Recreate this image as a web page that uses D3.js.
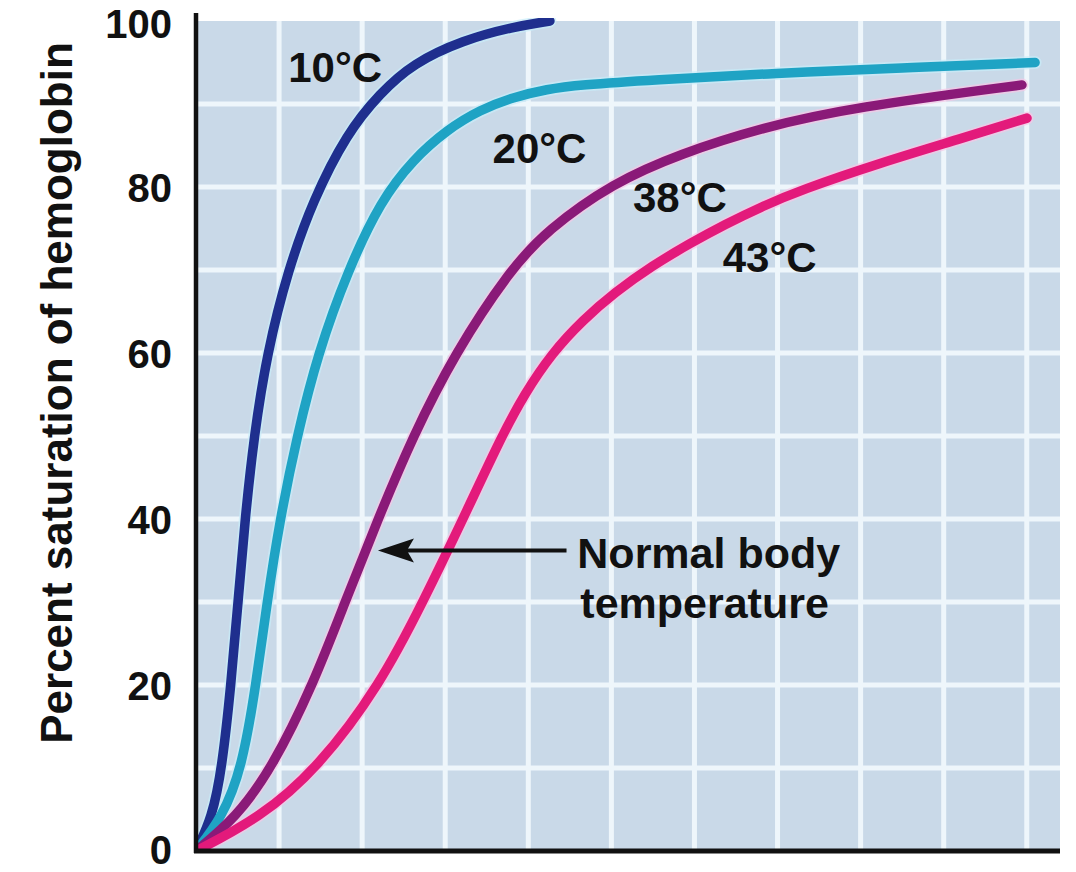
<!DOCTYPE html>
<html>
<head>
<meta charset="utf-8">
<script src="https://cdn.jsdelivr.net/npm/d3@7"></script>
<style>
  html, body { margin: 0; padding: 0; background: #ffffff; }
  svg { display: block; }
  text { font-family: "Liberation Sans", Arial, Helvetica, sans-serif; font-weight: bold; fill: #111; }
</style>
</head>
<body>
<svg id="chart" width="1076" height="872"></svg>
<script>
// ---- Data (x: oxygen level in arbitrary grid units, y: percent saturation) ----
const yTicks = [0, 20, 40, 60, 80, 100];
const yTickLabels = ["0", "20", "40", "60", "80", "100"];
const gridX = [10, 20, 30, 40, 50, 60, 70, 80, 90, 100];
const gridY = [10, 20, 30, 40, 50, 60, 70, 80, 90];

const seriesNames = ["10°C", "20°C", "38°C", "43°C"];

const curve10 = [
  [0, 0], [1.93, 4], [3.13, 10], [4.21, 20], [5.06, 30], [5.9, 40], [6.98, 50],
  [8.55, 60], [11.07, 70], [14.08, 78.4], [18.18, 86.5], [22.15, 91.3],
  [26.12, 94.9], [32.14, 97.7], [38.16, 99.3], [42.6, 100]
];
const curve20 = [
  [0, 0], [3.13, 4], [5.54, 10], [7.22, 20], [8.55, 30], [10.11, 40], [12.16, 50],
  [14.68, 60], [18.3, 70], [22.27, 78.4], [26.12, 83.3], [30.21, 86.9],
  [34.19, 89.3], [38.16, 90.8], [42.25, 91.8], [46.22, 92.3], [54.65, 92.9],
  [69.93, 93.7], [84.74, 94.35], [101, 95.0]
];
const curve38 = [
  [0, 0], [4.81, 4], [9.15, 10], [14.08, 20], [17.94, 30], [21.91, 40], [26.12, 50],
  [31.18, 60], [37.8, 70], [42.25, 74.8], [50.19, 80.5], [58.26, 84], [68.25, 87.2],
  [79.08, 89.6], [99.42, 92.3]
];
const curve43 = [
  [0, 0], [7.7, 4], [14.68, 10], [22.15, 20], [27.32, 30], [32.14, 40], [36.8, 50],
  [39.5, 55], [42.85, 60], [46.6, 64], [50.4, 67.3], [54.89, 70.5], [59.46, 73.2],
  [63.67, 75.5], [68.25, 77.7], [72.7, 79.6], [82.33, 82.9], [92.0, 85.8], [100.03, 88.3]
];
const seriesData = [curve10, curve20, curve38, curve43];
const seriesColors = ["#1f2f8e", "#1fa3c4", "#8a1a78", "#e31a7b"];

// label anchor points (data units: left x, baseline y)
const labelPos = [[11.1, 92.6], [35.7, 82.9], [52.6, 77.0], [63.4, 69.8]];

const annotationLines = ["Normal body", "temperature"];
const arrowTip = [21.9, 36.2];
const arrowTail = [44.6, 36.2];
const annotationPos = [45.9, 34.1];

// ---- Layout ----
const svg = d3.select("#chart");
const mLeft = 196, mRight = 1060, mTop = 21, mBottom = 851;

const x = d3.scaleLinear().domain([0, 104]).range([mLeft, mRight]);
const y = d3.scaleLinear().domain([0, 100]).range([mBottom, mTop]);

// plot background
svg.append("rect")
  .attr("x", mLeft).attr("y", mTop)
  .attr("width", mRight - mLeft).attr("height", mBottom - mTop)
  .attr("fill", "#c9d9e8");

// grid
const grid = svg.append("g").attr("stroke", "#eef6fb").attr("stroke-width", 5);
grid.selectAll("line.v").data(gridX).join("line")
  .attr("class", "v")
  .attr("x1", d => x(d)).attr("x2", d => x(d))
  .attr("y1", mTop).attr("y2", mBottom);
grid.selectAll("line.h").data(gridY).join("line")
  .attr("class", "h")
  .attr("x1", mLeft).attr("x2", mRight)
  .attr("y1", d => y(d)).attr("y2", d => y(d));

// curves
svg.append("clipPath").attr("id", "plotclip")
  .append("rect").attr("x", mLeft).attr("y", mTop - 3).attr("width", mRight - mLeft + 20).attr("height", mBottom - mTop + 3);

const line = d3.line().x(d => x(d[0])).y(d => y(d[1])).curve(d3.curveBasis);
const curves = svg.append("g").attr("clip-path", "url(#plotclip)");
curves.selectAll("path.halo").data(seriesData).join("path")
  .attr("class", "halo")
  .attr("d", line)
  .attr("fill", "none")
  .attr("stroke", (d, i) => i >= 2 ? "#f6c6e6" : "#c8ecfa")
  .attr("stroke-width", 13)
  .attr("stroke-opacity", 0.7)
  .attr("stroke-linecap", "round");
curves.selectAll("path.curve").data(seriesData).join("path")
  .attr("class", "curve")
  .attr("d", line)
  .attr("fill", "none")
  .attr("stroke", (d, i) => seriesColors[i])
  .attr("stroke-width", 9.5)
  .attr("stroke-linecap", "round");

// axes
const yAxis = d3.axisLeft(y).tickValues(yTicks).tickFormat((d, i) => yTickLabels[i]).tickSize(0).tickPadding(24);
const gy = svg.append("g").attr("transform", `translate(${mLeft},0)`).call(yAxis);
gy.select(".domain").remove();
gy.selectAll("text")
  .style("font-family", "'Liberation Sans', Arial, sans-serif")
  .style("font-weight", "bold")
  .style("font-size", "40px")
  .attr("fill", "#111")
  .attr("dy", d => d === 100 ? "0.42em" : d === 0 ? "0.3em" : "0.37em");

const xAxis = d3.axisBottom(x).tickValues([]).tickSize(0);
const gx = svg.append("g").attr("transform", `translate(0,${mBottom})`).call(xAxis);
gx.select(".domain").remove();

svg.append("line")
  .attr("x1", mLeft).attr("x2", mLeft)
  .attr("y1", 13).attr("y2", mBottom + 2)
  .attr("stroke", "#111").attr("stroke-width", 4.5);
svg.append("line")
  .attr("x1", mLeft - 2).attr("x2", mRight)
  .attr("y1", mBottom).attr("y2", mBottom)
  .attr("stroke", "#111").attr("stroke-width", 5);

// y title
svg.append("text")
  .attr("transform", `translate(72, 393) rotate(-90)`)
  .attr("text-anchor", "middle")
  .style("font-size", "44px")
  .text("Percent saturation of hemoglobin");

// series labels
svg.selectAll("text.lbl").data(seriesNames).join("text")
  .attr("class", "lbl")
  .attr("x", (d, i) => x(labelPos[i][0]))
  .attr("y", (d, i) => y(labelPos[i][1]))
  .style("font-size", "42px")
  .text(d => d);

// annotation arrow
const tipX = x(arrowTip[0]), tipY = y(arrowTip[1]);
svg.append("line")
  .attr("x1", tipX + 20).attr("x2", x(arrowTail[0]))
  .attr("y1", tipY).attr("y2", tipY)
  .attr("stroke", "#111").attr("stroke-width", 4);
svg.append("path")
  .attr("d", `M${tipX},${tipY} L${tipX + 36},${tipY - 12} L${tipX + 29},${tipY} L${tipX + 36},${tipY + 12} Z`)
  .attr("fill", "#111");

svg.append("text")
  .attr("x", x(annotationPos[0]))
  .attr("y", y(annotationPos[1]))
  .style("font-size", "43px")
  .selectAll("tspan").data(annotationLines).join("tspan")
  .attr("x", (d, i) => x(annotationPos[0]) + i * 3)
  .attr("dy", (d, i) => i === 0 ? 0 : 50)
  .text(d => d);
</script>
</body>
</html>
